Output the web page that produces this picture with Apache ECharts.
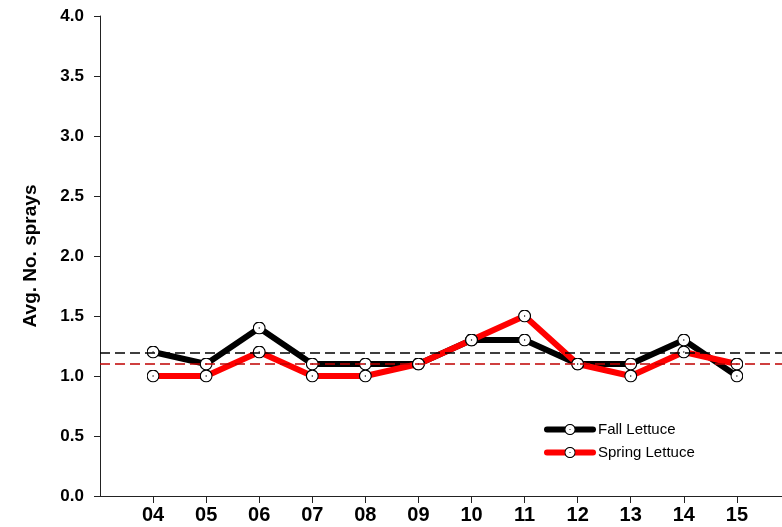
<!DOCTYPE html>
<html>
<head>
<meta charset="utf-8">
<script src="https://cdn.jsdelivr.net/npm/echarts@6/dist/echarts.min.js"></script>
<style>html,body{margin:0;padding:0;background:#fff}#c{width:782px;height:527px}</style>
</head>
<body>
<div id="c"></div>
<script>
const years = [4, 5, 6, 7, 8, 9, 10, 11, 12, 13, 14, 15];
const fallLettuce = [1.2, 1.1, 1.4, 1.1, 1.1, 1.1, 1.3, 1.3, 1.1, 1.1, 1.3, 1.0];
const springLettuce = [1.0, 1.0, 1.2, 1.0, 1.0, 1.1, 1.3, 1.5, 1.1, 1.0, 1.2, 1.1];
const fallMean = 1.19;
const springMean = 1.1;
const yTicks = [0, 0.5, 1.0, 1.5, 2.0, 2.5, 3.0, 3.5, 4.0];

const sym = 'image://data:image/svg+xml;utf8,' + encodeURIComponent(
  "<svg xmlns='http://www.w3.org/2000/svg' width='26' height='26' viewBox='0 0 26 26'>" +
  "<circle cx='13' cy='13' r='11.8' fill='white' stroke='black' stroke-width='2.4'/>" +
  "<circle cx='13' cy='13' r='1.4' fill='black'/></svg>");

const chart = echarts.init(document.getElementById('c'), null, {renderer: 'canvas'});
const pts = a => a.map((v, i) => [years[i], v]);
chart.setOption({
  animation: false,
  backgroundColor: '#fff',
  grid: {left: 100, top: 16, right: 0, bottom: 31, containLabel: false},
  legend: {
    left: 539, top: 417, orient: 'vertical', itemWidth: 46, itemHeight: 14, itemGap: 8,
    lineStyle: {width: 6, cap: 'round'},
    textStyle: {fontFamily: 'Liberation Sans, Arial', fontSize: 15, color: '#000'},
    data: ['Fall Lettuce', 'Spring Lettuce']
  },
  xAxis: {
    type: 'value', min: 3, max: 15.85, interval: 1,
    axisLine: {lineStyle: {color: '#222', width: 1}},
    axisTick: {show: true, length: 7, customValues: years, lineStyle: {color: '#222'}},
    axisLabel: {
      customValues: years, margin: 9,
      fontFamily: 'Liberation Sans, Arial', fontWeight: 'bold', fontSize: 20, color: '#000',
      formatter: v => (v < 10 ? '0' : '') + v
    },
    splitLine: {show: false}
  },
  yAxis: {
    type: 'value', min: 0, max: 4, interval: 0.5,
    name: 'Avg. No. sprays', nameLocation: 'middle', nameGap: 60,
    nameTextStyle: {fontFamily: 'Liberation Sans, Arial', fontWeight: 'bold', fontSize: 19, color: '#000'},
    axisLine: {show: true, lineStyle: {color: '#222', width: 1}},
    axisTick: {show: true, length: 6, customValues: yTicks, lineStyle: {color: '#222'}},
    axisLabel: {
      customValues: yTicks, margin: 16,
      fontFamily: 'Liberation Sans, Arial', fontWeight: 'bold', fontSize: 17, color: '#000',
      formatter: v => v.toFixed(1)
    },
    splitLine: {show: false}
  },
  series: [
    {
      name: 'Fall Lettuce', type: 'line', data: pts(fallLettuce),
      symbol: sym, symbolSize: 13, showAllSymbol: true,
      itemStyle: {color: '#000'},
      lineStyle: {color: '#000', width: 6, cap: 'round'},
      markLine: {
        silent: true, symbol: 'none', label: {show: false},
        lineStyle: {color: '#000', type: [10, 5], width: 1.5},
        data: [{yAxis: fallMean}]
      }
    },
    {
      name: 'Spring Lettuce', type: 'line', data: pts(springLettuce),
      symbol: sym, symbolSize: 13, showAllSymbol: true,
      itemStyle: {color: '#ff0000'},
      lineStyle: {color: '#ff0000', width: 6, cap: 'round'},
      markLine: {
        silent: true, symbol: 'none', label: {show: false},
        lineStyle: {color: '#c00000', type: [10, 5], width: 1.5},
        data: [{yAxis: springMean}]
      }
    }
  ]
});
</script>
</body>
</html>
